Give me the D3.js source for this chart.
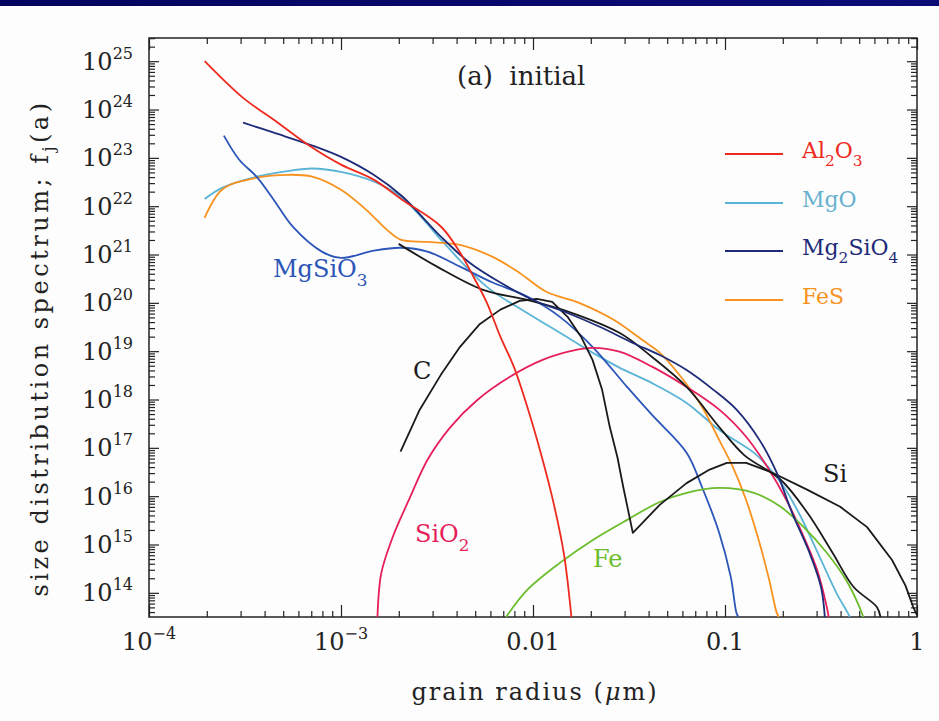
<!DOCTYPE html>
<html>
<head>
<meta charset="utf-8">
<title>Size distribution spectrum - initial</title>
<script src="https://d3js.org/d3.v7.min.js"></script>
<style>
  body { margin: 0; background: #fdfdfd; }
  text { font-family: "DejaVu Serif", serif; }
  .axis line { stroke: #222; stroke-width: 1.2px; }
  .axis path { display: none; }
  .curve { fill: none; stroke-width: 1.8px; stroke-linejoin: round; }
</style>
</head>
<body>
<svg id="chart" width="939" height="721"></svg>
<script>
// values, as [log10 a (um), log10 f_j(a)]
var al2o3 = [[-3.71,25.0],[-3.51,24.24],[-3.35,23.79],[-3.16,23.24],[-3.0,22.86],[-2.83,22.55],[-2.68,22.13],[-2.48,21.58],[-2.38,21.04],[-2.31,20.54],[-2.24,20.0],[-2.17,19.3],[-2.10,18.68],[-2.03,17.85],[-1.96,16.9],[-1.90,15.98],[-1.84,14.83],[-1.80,13.5]];
var mgo = [[-3.71,22.15],[-3.62,22.38],[-3.44,22.61],[-3.27,22.73],[-3.15,22.78],[-3.0,22.71],[-2.83,22.51],[-2.69,22.2],[-2.57,21.72],[-2.48,21.31],[-2.24,20.33],[-2.03,19.79],[-1.86,19.38],[-1.69,18.97],[-1.55,18.66],[-1.38,18.34],[-1.2,17.93],[-1.03,17.37],[-0.85,16.9],[-0.77,16.58],[-0.69,16.17],[-0.61,15.61],[-0.5,14.68],[-0.42,14.0],[-0.36,13.58],[-0.35,13.5]];
var mg2sio4 = [[-3.51,23.73],[-3.35,23.52],[-3.16,23.27],[-3.0,23.02],[-2.83,22.65],[-2.68,22.2],[-2.48,21.37],[-2.33,20.83],[-2.17,20.42],[-2.0,20.06],[-1.82,19.79],[-1.65,19.5],[-1.48,19.17],[-1.34,18.92],[-1.2,18.61],[-1.06,18.2],[-0.94,17.79],[-0.82,17.16],[-0.73,16.48],[-0.65,15.65],[-0.56,14.83],[-0.5,14.12],[-0.48,13.5]];
var fes = [[-3.71,21.76],[-3.62,22.34],[-3.44,22.59],[-3.27,22.65],[-3.15,22.61],[-3.0,22.34],[-2.87,21.93],[-2.76,21.51],[-2.69,21.31],[-2.55,21.26],[-2.38,21.2],[-2.21,20.95],[-2.07,20.62],[-1.93,20.23],[-1.76,20.0],[-1.58,19.65],[-1.43,19.23],[-1.34,18.97],[-1.23,18.47],[-1.12,17.85],[-1.03,17.16],[-0.96,16.61],[-0.89,15.92],[-0.82,15.03],[-0.77,14.27],[-0.73,13.58],[-0.72,13.5]];
var mgsio3 = [[-3.61,23.46],[-3.53,22.96],[-3.44,22.61],[-3.35,22.13],[-3.25,21.57],[-3.1,21.06],[-3.0,20.93],[-2.83,21.08],[-2.69,21.14],[-2.55,21.06],[-2.38,20.75],[-2.21,20.42],[-2.03,20.13],[-1.86,19.71],[-1.69,19.09],[-1.51,18.26],[-1.38,17.68],[-1.2,16.9],[-1.12,16.19],[-1.03,15.24],[-0.97,14.33],[-0.94,13.58],[-0.93,13.5]];
var sio2 = [[-2.81,13.5],[-2.79,14.41],[-2.73,15.16],[-2.64,15.98],[-2.55,16.75],[-2.43,17.43],[-2.29,17.99],[-2.12,18.47],[-1.95,18.82],[-1.77,19.03],[-1.69,19.07],[-1.55,18.99],[-1.38,18.68],[-1.2,18.26],[-1.03,17.79],[-0.89,17.23],[-0.78,16.61],[-0.68,15.92],[-0.59,15.16],[-0.52,14.47],[-0.47,13.71],[-0.46,13.5]];
var fe = [[-2.14,13.5],[-2.03,14.06],[-1.86,14.62],[-1.69,15.09],[-1.51,15.51],[-1.34,15.88],[-1.2,16.07],[-1.03,16.17],[-0.85,16.07],[-0.71,15.78],[-0.59,15.36],[-0.47,14.83],[-0.37,14.27],[-0.3,13.71],[-0.28,13.5]];
var carbon = [[-2.69,16.92],[-2.59,17.79],[-2.48,18.51],[-2.38,19.09],[-2.28,19.55],[-2.17,19.86],[-2.07,20.04],[-1.98,20.08],[-1.9,20.02],[-1.82,19.71],[-1.75,19.3],[-1.69,18.82],[-1.64,18.2],[-1.6,17.43],[-1.56,16.8],[-1.53,16.19],[-1.48,15.24],[-1.34,15.82],[-1.2,16.27],[-1.08,16.55],[-0.99,16.69],[-0.89,16.69],[-0.75,16.48],[-0.57,16.13],[-0.4,15.78],[-0.26,15.36],[-0.13,14.68],[-0.06,14.15],[-0.02,13.71],[0,13.54]];
var si = [[-2.7,21.22],[-2.5,20.75],[-2.26,20.27],[-2.03,20.06],[-1.81,19.81],[-1.55,19.38],[-1.38,18.88],[-1.2,18.26],[-1.03,17.43],[-0.9,16.85],[-0.71,16.34],[-0.57,15.65],[-0.44,14.83],[-0.33,14.12],[-0.21,13.71],[-0.19,13.5]];

// tick labels: [value, base, superscript]
var xLabels = [[1e-4,"10","\u22124"],[1e-3,"10","\u22123"],[1e-2,"0.01",""],[1e-1,"0.1",""],[1,"1",""]];
var yExponents = [14,15,16,17,18,19,20,21,22,23,24,25];

// label text parts: [text, "sub" or ""]
var legendNames = [
  [["Al",""],["2","sub"],["O",""],["3","sub"]],
  [["MgO",""]],
  [["Mg",""],["2","sub"],["SiO",""],["4","sub"]],
  [["FeS",""]]
];

var svg = d3.select("#chart");
var W = 939, H = 721;
var pLeft = 149, pRight = 917, pTop = 38, pBottom = 617;

svg.append("rect").attr("width", W).attr("height", H).attr("fill", "#fdfdfd");
var grad = svg.append("defs").append("linearGradient").attr("id", "bar");
grad.append("stop").attr("offset", "0%").attr("stop-color", "#04045e");
grad.append("stop").attr("offset", "100%").attr("stop-color", "#0c0c78");
svg.append("rect").attr("width", W).attr("height", 6).attr("fill", "url(#bar)");

var x = d3.scaleLog().domain([1e-4, 1]).range([pLeft, pRight]);
var y = d3.scaleLog().domain([Math.pow(10, 13.5), Math.pow(10, 25.48)]).range([pBottom, pTop]);

function isMajor(v) {
  var l = Math.log10(v);
  return Math.abs(l - Math.round(l)) < 1e-6;
}
var xAll = x.ticks(40), yAll = y.ticks(40);
var xMaj = xAll.filter(isMajor), xMin = xAll.filter(function(v) { return !isMajor(v); });
var yMaj = yAll.filter(isMajor), yMin = yAll.filter(function(v) { return !isMajor(v); });

function drawAxis(gen, vals, size, tr) {
  svg.append("g").attr("class", "axis").attr("transform", tr)
    .call(gen.tickValues(vals).tickSize(-size).tickSizeOuter(0).tickFormat(""));
}
drawAxis(d3.axisBottom(x), xMin, 6, "translate(0," + pBottom + ")");
drawAxis(d3.axisBottom(x), xMaj, 12, "translate(0," + pBottom + ")");
drawAxis(d3.axisTop(x), xMin, 6, "translate(0," + pTop + ")");
drawAxis(d3.axisTop(x), xMaj, 12, "translate(0," + pTop + ")");
drawAxis(d3.axisLeft(y), yMin, 6, "translate(" + pLeft + ",0)");
drawAxis(d3.axisLeft(y), yMaj, 10, "translate(" + pLeft + ",0)");
drawAxis(d3.axisRight(y), yMin, 6, "translate(" + pRight + ",0)");
drawAxis(d3.axisRight(y), yMaj, 10, "translate(" + pRight + ",0)");

svg.append("rect").attr("x", pLeft).attr("y", pTop)
  .attr("width", pRight - pLeft).attr("height", pBottom - pTop)
  .attr("fill", "none").attr("stroke", "#222").attr("stroke-width", 1.5);

// x tick labels
xLabels.forEach(function(d) {
  var t = svg.append("text").attr("x", x(d[0])).attr("y", 650)
    .attr("text-anchor", "middle").attr("font-size", 24).attr("fill", "#222");
  t.append("tspan").text(d[1]);
  if (d[2]) t.append("tspan").attr("font-size", 16).attr("dy", -11).text(d[2]);
});

// y tick labels
yExponents.forEach(function(e) {
  var t = svg.append("text").attr("x", 133).attr("y", y(Math.pow(10, e)) + 8.5)
    .attr("text-anchor", "end").attr("font-size", 24).attr("fill", "#222");
  t.append("tspan").text("10");
  t.append("tspan").attr("font-size", 16).attr("dy", -11).text(e);
});

// axis titles
var xt = svg.append("text").attr("x", 535).attr("y", 700).attr("fill", "#222")
  .attr("text-anchor", "middle").attr("font-size", 24).attr("letter-spacing", 2);
xt.append("tspan").text("grain radius (");
xt.append("tspan").attr("font-style", "italic").text("\u03bc");
xt.append("tspan").text("m)");

var yt = svg.append("text").attr("transform", "translate(48,348) rotate(-90)").attr("fill", "#222")
  .attr("text-anchor", "middle").attr("font-size", 24).attr("letter-spacing", 3.5);
yt.append("tspan").text("size distribution spectrum; f");
yt.append("tspan").attr("font-size", 16).attr("dy", 6).text("j");
yt.append("tspan").attr("dy", -6).text("(a)");

svg.append("text").attr("x", 457).attr("y", 85).attr("font-size", 26).attr("fill", "#222")
  .text("(a)\u00a0 initial");

// curves
var series = [
  { data: mgo, color: "#5ab4d6", smooth: true },
  { data: fes, color: "#f7931e", smooth: true },
  { data: mgsio3, color: "#2b55b8", smooth: true },
  { data: sio2, color: "#e61e5a", smooth: true },
  { data: fe, color: "#6cbd2c", smooth: true },
  { data: carbon, color: "#1a1a1a", smooth: false },
  { data: si, color: "#1a1a1a", smooth: true },
  { data: mg2sio4, color: "#1e2b78", smooth: true },
  { data: al2o3, color: "#ee2a1e", smooth: true }
];

svg.append("clipPath").attr("id", "plot").append("rect")
  .attr("x", pLeft).attr("y", pTop).attr("width", pRight - pLeft).attr("height", pBottom - pTop);

var line = d3.line()
  .x(function(d) { return x(Math.pow(10, d[0])); })
  .y(function(d) { return y(Math.pow(10, d[1])); });

svg.append("g").attr("clip-path", "url(#plot)")
  .selectAll("path").data(series).enter().append("path")
  .attr("class", "curve")
  .attr("stroke", function(d) { return d.color; })
  .attr("d", function(d) {
    return line.curve(d.smooth ? d3.curveCatmullRom.alpha(0.5) : d3.curveLinear)(d.data);
  });

function richText(px, py, parts, size, color, subShift) {
  var t = svg.append("text").attr("x", px).attr("y", py)
    .attr("font-size", size).attr("fill", color);
  var down = 0;
  parts.forEach(function(p) {
    var s = t.append("tspan").text(p[0]);
    if (p[1] === "sub") {
      s.attr("font-size", size * 0.7).attr("dy", subShift - down);
      down = subShift;
    } else {
      s.attr("dy", -down);
      down = 0;
    }
  });
}

// legend
var legendColors = ["#ee2a1e", "#5ab4d6", "#1e2b78", "#f7931e"];
var legendText = ["#ee2a1e", "#68b1cf", "#1e2b78", "#f7931e"];
var legendY = [154, 203, 251, 300];
legendNames.forEach(function(n, i) {
  svg.append("line").attr("x1", 725).attr("x2", 783)
    .attr("y1", legendY[i]).attr("y2", legendY[i])
    .attr("stroke", legendColors[i]).attr("stroke-width", 1.8);
  richText(802, legendY[i] + 4, n, 22, legendText[i], 8);
});

// inline labels
richText(273, 277, [["MgSiO",""],["3","sub"]], 24, "#2b55b8", 9);
richText(413, 379, [["C",""]], 24, "#1a1a1a", 0);
richText(415, 542, [["SiO",""],["2","sub"]], 24, "#e61e5a", 9);
richText(593, 567, [["Fe",""]], 24, "#6cbd2c", 0);
richText(823, 482, [["Si",""]], 24, "#1a1a1a", 0);
</script>
</body>
</html>
